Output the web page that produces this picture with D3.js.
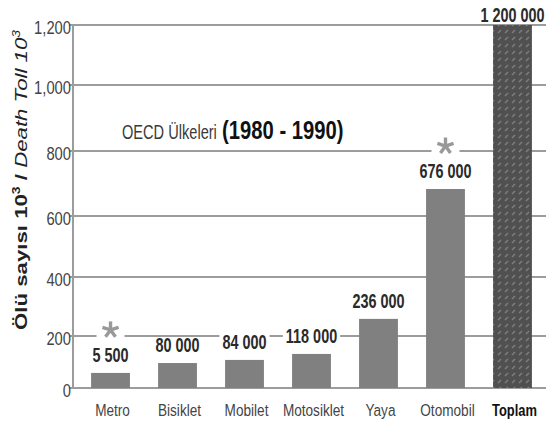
<!DOCTYPE html>
<html><head><meta charset="utf-8">
<script src="https://cdn.jsdelivr.net/npm/d3@7"></script>
<style>body{margin:0;background:#fff}svg{display:block}</style>
</head><body>
<svg id="chart" width="548" height="428"></svg>
<script>
const categories = ["Metro","Bisiklet","Mobilet","Motosiklet","Yaya","Otomobil","Toplam"];
const barValues = [58, 96, 108, 131, 258, 683, 1200];
const valueLabels = ["5 500","80 000","84 000","118 000","236 000","676 000","1 200 000"];
const starred = [true,false,false,false,false,true,false];
const yTicks = [0,200,400,600,800,1000,1200];
const titleBold = "Ölü sayısı 10";
const titleItalic = "Death Toll 10";
const noteNormal = "OECD Ülkeleri";
const noteBold = "(1980 - 1990)";

const FONT = "'Liberation Sans',Arial,sans-serif";
const svg = d3.select("#chart");
const x = d3.scaleBand().domain(categories).range([73,550]).paddingInner(0.42).paddingOuter(0.27);
// the reference's value axis is drawn with slightly uneven spacing; piecewise-linear scale follows it
const y = d3.scaleLinear().domain(yTicks).range([388,336,277,216,151,85,25]);

function ntext(parent, px, py, sx){
  return parent.append("text").attr("transform",`translate(${px},${py}) scale(${sx},1)`)
    .attr("font-family",FONT);
}

const defs = svg.append("defs");
const pat = defs.append("pattern").attr("id","hatch").attr("patternUnits","userSpaceOnUse")
  .attr("width",7).attr("height",7);
pat.append("rect").attr("width",7).attr("height",7).attr("fill","#505050");
pat.append("path").attr("d","M1,5 L4,2").attr("stroke","#7c7c7c").attr("stroke-width",1.6);

// gridlines
svg.append("g").selectAll("line").data(yTicks).join("line")
  .attr("x1",69).attr("x2",546).attr("y1",d=>y(d)).attr("y2",d=>y(d))
  .attr("stroke","#9c9c9c").attr("stroke-width",2);
svg.append("line").attr("x1",73).attr("x2",73).attr("y1",y(1200)).attr("y2",y(0))
  .attr("stroke","#9c9c9c").attr("stroke-width",2);

// y tick labels
const yl = svg.append("g");
yTicks.forEach(d=>{
  ntext(yl,71,y(d)+2,0.82).attr("text-anchor","end").attr("dominant-baseline","central")
    .attr("font-size",18).attr("fill","#444").text(d3.format(",")(d));
});

// bars
svg.append("g").selectAll("rect").data(categories).join("rect")
  .attr("x",d=>x(d)).attr("width",x.bandwidth())
  .attr("y",(d,i)=>y(barValues[i])).attr("height",(d,i)=>y(0)-y(barValues[i]))
  .attr("fill",(d,i)=>i===categories.length-1?"url(#hatch)":"#808080");

// value labels with white backgrounds
const lab = svg.append("g");
const LSX = 0.74;
categories.forEach((c,i)=>{
  const cx = x(c)+x.bandwidth()/2;
  const cy = Math.max(15, y(barValues[i])-18);
  const t = ntext(lab,cx,cy,LSX).attr("text-anchor","middle").attr("dominant-baseline","central")
    .attr("font-weight","bold").attr("font-size",19.5).attr("fill","#2a2a2a").text(valueLabels[i]);
  const w = t.node().getBBox().width*LSX;
  lab.insert("rect","text").attr("x",cx-w/2-3).attr("y",cy-8).attr("width",w+6).attr("height",16).attr("fill","#fff");
  if(starred[i]){
    const sy = cy-25;
    lab.append("rect").attr("x",cx-14).attr("y",sy-8).attr("width",28).attr("height",16).attr("fill","#fff");
    const g = lab.append("g").attr("transform",`translate(${cx},${sy})`);
    d3.range(5).forEach(k=>{
      const a = (-90 + k*72)*Math.PI/180;
      g.append("line").attr("x1",0).attr("y1",0).attr("x2",8.5*Math.cos(a)).attr("y2",8.5*Math.sin(a))
        .attr("stroke","#999").attr("stroke-width",3.4);
    });
  }
});

// x labels
const xl = svg.append("g");
categories.forEach((c,i)=>{
  const last = i===categories.length-1;
  ntext(xl, x(c)+x.bandwidth()/2+2, 416, last?0.76:0.8).attr("text-anchor","middle")
    .attr("font-size",17).attr("font-weight",last?"bold":"normal")
    .attr("fill",last?"#111":"#444").text(c);
});

// annotation
ntext(svg,122,139,0.73).attr("font-size",20).attr("fill","#3a3a3a").text(noteNormal);
ntext(svg,222,139,0.81).attr("font-size",25).attr("font-weight","bold").attr("fill","#111").text(noteBold);

// y title
const title = svg.append("text").attr("transform","translate(27,330) rotate(-90)")
  .attr("font-family",FONT).attr("font-size",16).attr("fill","#222")
  .attr("textLength",300).attr("lengthAdjust","spacingAndGlyphs");
title.append("tspan").attr("font-weight","bold").text(titleBold);
title.append("tspan").attr("font-weight","bold").attr("font-size",10).attr("dy",-7).text("3");
title.append("tspan").attr("font-weight","bold").attr("dy",7).text(" / ");
title.append("tspan").attr("font-style","italic").text(titleItalic);
title.append("tspan").attr("font-style","italic").attr("font-size",10).attr("dy",-7).text("3");
</script>
</body></html>
